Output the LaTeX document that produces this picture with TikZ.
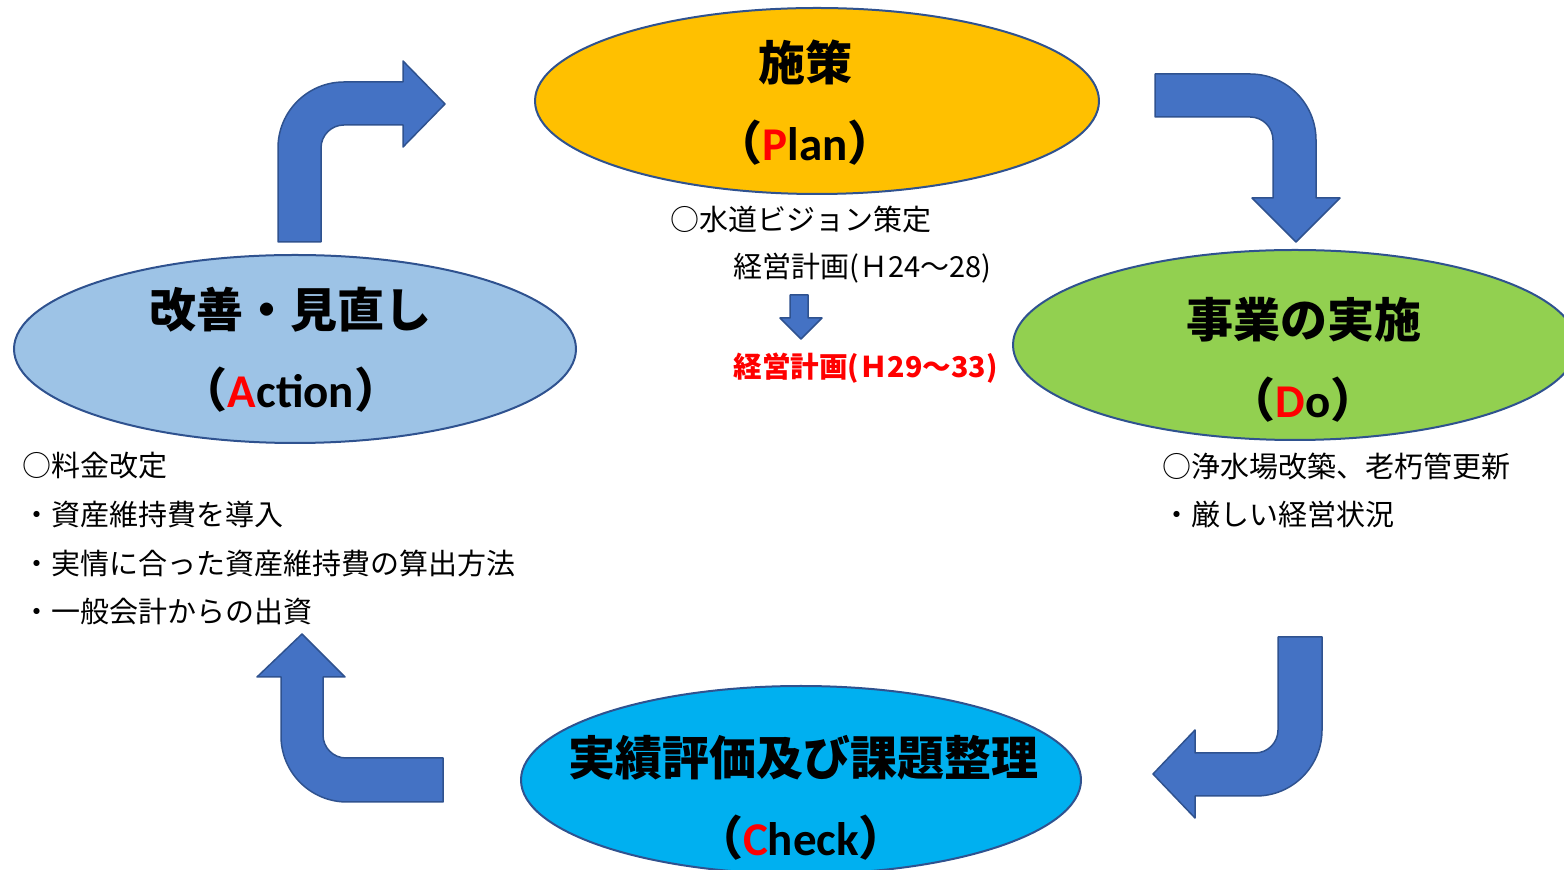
\documentclass[tikz,border=0pt]{standalone}
\usepackage{fontspec}
\setmainfont{Noto Sans CJK JP}
\newfontfamily\lat{Carlito}
\usetikzlibrary{shapes.geometric}
\definecolor{arrowfill}{HTML}{4472C4}
\definecolor{edgeblue}{HTML}{2F528F}
\definecolor{planfill}{HTML}{FFC000}
\definecolor{dofill}{HTML}{92D050}
\definecolor{actfill}{HTML}{9DC3E6}
\definecolor{chkfill}{HTML}{00B0F0}
\definecolor{redtext}{HTML}{FF0000}
\begin{document}
\begin{tikzpicture}[x=0.5pt,y=-0.5pt,
 phase/.style={ellipse, draw=edgeblue, line width=1pt, inner sep=0pt},
 bigarrow/.style={fill=arrowfill, draw=edgeblue, line width=0.75pt, line join=round},
 titletext/.style={font=\fontsize{23.5}{28}\selectfont\bfseries, inner sep=0pt},
 bodytext/.style={font=\fontsize{14.5}{17}\selectfont, anchor=west, inner sep=0pt},
]
\useasboundingbox (0,0) rectangle (1564,870);

% ellipses
\node[phase, fill=planfill, minimum width=282pt, minimum height=93pt] (plan) at (817,101) {};
\node[phase, fill=dofill, minimum width=282pt, minimum height=95pt] (do) at (1295,345) {};
\node[phase, fill=actfill, minimum width=281pt, minimum height=94pt] (act) at (295,349) {};
\node[phase, fill=chkfill, minimum width=280pt, minimum height=94pt] (chk) at (801,780) {};

% titles
\node[titletext] (planA) at (805,62) {施策};
\node[titletext] (planB) at (805,143) {（{\lat\textcolor{redtext}{P}lan}）};
\node[titletext] (actA) at (290,310) {改善・見直し};
\node[titletext] (actB) at (291,390) {（{\lat\textcolor{redtext}{A}ction}）};
\node[titletext] (doA) at (1304,320) {事業の実施};
\node[titletext] (doB) at (1303,400) {（{\lat\textcolor{redtext}{D}o}）};
\node[titletext] (chkA) at (803,758) {実績評価及び課題整理};
\node[titletext] (chkB) at (801,838) {（{\lat\textcolor{redtext}{C}heck}）};

% body texts
\node[bodytext] (p1) at (670,220) {○水道ビジョン策定};
\node[bodytext] (p2) at (733,268) {経営計画(Ｈ24～28)};
\node[bodytext, text=redtext, font=\fontsize{14.3}{17}\selectfont\bfseries] (p3) at (733,368) {経営計画(Ｈ29～33)};
\node[bodytext] (a1) at (22,466) {○料金改定};
\node[bodytext] (a2) at (22,514) {・資産維持費を導入};
\node[bodytext] (a3) at (22,563) {・実情に合った資産維持費の算出方法};
\node[bodytext] (a4) at (22,612) {・一般会計からの出資};
\node[bodytext] (d1) at (1162,466) {○浄水場改築、老朽管更新};
\node[bodytext] (d2) at (1162,514) {・厳しい経営状況};

% small down arrow
\draw[bigarrow] (790,295) -- (808,295) -- (808,318) -- (822,318) -- (801,339) -- (780,318) -- (790,318) -- cycle;

% bent arrow: Action -> Plan
\draw[bigarrow] (278,242) -- (278,148) .. controls (278,111.55) and (307.55,82) .. (344,82)
  -- (403,82) -- (403,61) -- (445,104) -- (403,147) -- (403,125) -- (344,125)
  .. controls (331.3,125) and (321,135.3) .. (321,148) -- (321,242) -- cycle;

% bent arrow: Plan -> Do
\draw[bigarrow] (1155,74) -- (1250,74) .. controls (1286.45,74) and (1316,103.55) .. (1316,140)
  -- (1316,198) -- (1340,198) -- (1296,242) -- (1252,198) -- (1273,198) -- (1273,140)
  .. controls (1273,127.3) and (1262.7,117) .. (1250,117) -- (1155,117) -- cycle;

% bent arrow: Do -> Check
\draw[bigarrow] (1278,637) -- (1322,637) -- (1322,730) .. controls (1322,766.45) and (1292.45,796) .. (1256,796)
  -- (1195,796) -- (1195,818) -- (1153,774) -- (1195,730) -- (1195,753) -- (1255,753)
  .. controls (1267.7,753) and (1278,742.7) .. (1278,730) -- cycle;

% bent arrow: Check -> Action
\draw[bigarrow] (443,758) -- (443,802) -- (347,802) .. controls (310.55,802) and (281,772.45) .. (281,736)
  -- (281,677) -- (257,677) -- (302,634) -- (345,677) -- (323,677) -- (323,735)
  .. controls (323,747.7) and (333.3,758) .. (346,758) -- cycle;
\end{tikzpicture}
\end{document}
